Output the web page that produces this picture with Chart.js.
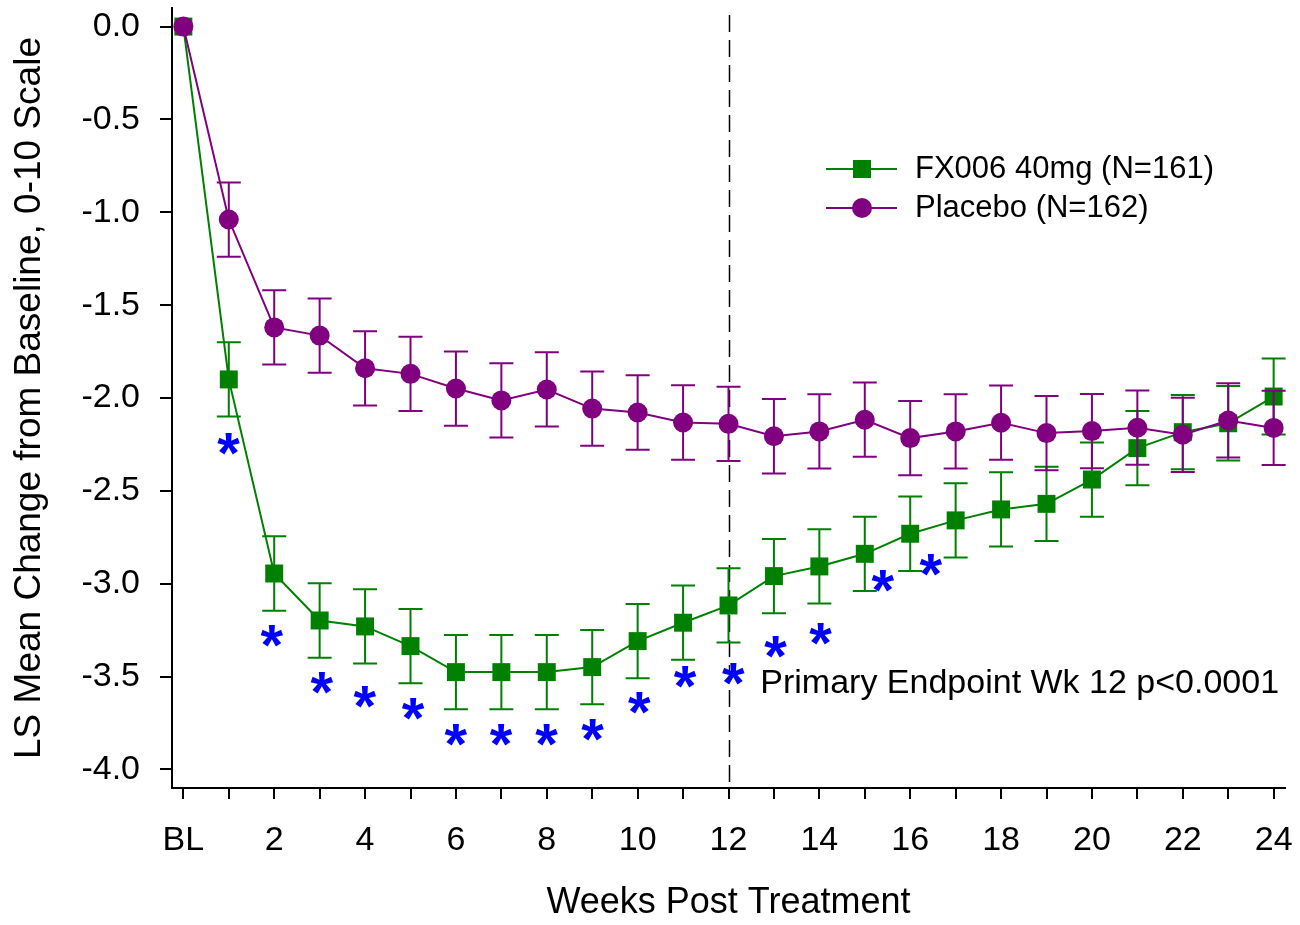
<!DOCTYPE html>
<html>
<head>
<meta charset="utf-8">
<script src="https://cdn.jsdelivr.net/npm/chart.js@4/dist/chart.umd.min.js"></script>
<style>
  html, body { margin: 0; background: #fff; }
</style>
</head>
<body>
<canvas id="grafico-dolor" width="1300" height="925"></canvas>
<script>
// LS mean change from baseline (0-10 scale), weeks 0 (BL) to 24
const semanas = [0, 1, 2, 3, 4, 5, 6, 7, 8, 9, 10, 11, 12, 13, 14, 15, 16, 17, 18, 19, 20, 21, 22, 23, 24];
const fx006Media = [0, -1.90, -2.945, -3.198, -3.23, -3.336, -3.476, -3.476, -3.476, -3.449, -3.309, -3.21, -3.117,
  -2.959, -2.907, -2.839, -2.731, -2.659, -2.60, -2.57, -2.439, -2.27, -2.184, -2.136, -1.992];
const fx006Error = [0, 0.2, 0.2, 0.2, 0.2, 0.2, 0.2, 0.2, 0.2, 0.2, 0.2, 0.2, 0.2,
  0.2, 0.2, 0.2, 0.2, 0.2, 0.2, 0.2, 0.2, 0.2, 0.2, 0.2, 0.205];
const placeboMedia = [0, -1.039, -1.62, -1.664, -1.84, -1.87, -1.949, -2.013, -1.954, -2.057, -2.078, -2.132, -2.139,
  -2.206, -2.18, -2.117, -2.216, -2.18, -2.133, -2.189, -2.178, -2.16, -2.198, -2.121, -2.161];
const placeboError = [0, 0.2, 0.2, 0.2, 0.2, 0.2, 0.2, 0.2, 0.2, 0.2, 0.2, 0.2, 0.2,
  0.2, 0.2, 0.2, 0.2, 0.2, 0.2, 0.2, 0.2, 0.2, 0.2, 0.2, 0.2];

// significance markers (*) under the FX006 curve
const asteriscoX = [1, 1.95, 3.05, 4, 5.06, 6, 7, 8, 9.01, 10.04, 11.05, 12.11, 13.04, 14.03, 15.4, 16.46];
const asteriscoY = [-2.247, -3.284, -3.537, -3.612, -3.673, -3.817, -3.812, -3.817, -3.79, -3.643, -3.503, -3.487,
  -3.339, -3.27, -2.983, -2.898];

const ticksX = semanas;
const ticksY = [0, -0.5, -1.0, -1.5, -2.0, -2.5, -3.0, -3.5, -4.0];
const semanaPrimaria = 12;
const textoPrimario = 'Primary Endpoint Wk 12 p<0.0001';
const textoPrimarioPos = { x: 12.7, y: -3.54 };

const etiquetaFx006 = 'FX006 40mg (N=161)';
const etiquetaPlacebo = 'Placebo (N=162)';

const VERDE = '#008000';
const MORADO = '#800080';
const AZUL = '#0000ff';
const FUENTE = '"Liberation Sans", Arial, Helvetica, sans-serif';

const puntos = (medias) => semanas.map((s, i) => ({ x: s, y: medias[i] }));

// error bars drawn right before their own dataset
const barrasError = {
  id: 'barrasError',
  beforeDatasetDraw(chart, args) {
    const ds = chart.data.datasets[args.index];
    if (!ds.errores) return;
    const { ctx, scales: { x, y } } = chart;
    ctx.save();
    ctx.strokeStyle = ds.borderColor;
    ctx.lineWidth = 2;
    ds.data.forEach((p, i) => {
      const e = ds.errores[i];
      if (!e) return;
      const px = x.getPixelForValue(p.x);
      const yArriba = y.getPixelForValue(p.y + e);
      const yAbajo = y.getPixelForValue(p.y - e);
      ctx.beginPath();
      ctx.moveTo(px, yArriba); ctx.lineTo(px, yAbajo);
      ctx.moveTo(px - 12, yArriba); ctx.lineTo(px + 12, yArriba);
      ctx.moveTo(px - 12, yAbajo); ctx.lineTo(px + 12, yAbajo);
      ctx.stroke();
    });
    ctx.restore();
  },
};

// dashed line at the primary endpoint week
const lineaPrimaria = {
  id: 'lineaPrimaria',
  beforeDatasetsDraw(chart) {
    const { ctx, chartArea, scales: { x } } = chart;
    const px = Math.round(x.getPixelForValue(semanaPrimaria)) + 0.5;
    ctx.save();
    ctx.strokeStyle = '#000';
    ctx.lineWidth = 1.5;
    ctx.setLineDash([17, 8]);
    ctx.beginPath();
    ctx.moveTo(px, chartArea.top + 7);
    ctx.lineTo(px, chartArea.bottom - 2);
    ctx.stroke();
    ctx.restore();
  },
};

// asterisks, endpoint note and legend
const anotaciones = {
  id: 'anotaciones',
  afterDatasetsDraw(chart) {
    const { ctx, scales: { x, y } } = chart;
    ctx.save();

    ctx.fillStyle = AZUL;
    ctx.font = `bold 58px ${FUENTE}`;
    ctx.textAlign = 'left';
    ctx.textBaseline = 'alphabetic';
    const m = ctx.measureText('*');
    const dx = (m.actualBoundingBoxRight - m.actualBoundingBoxLeft) / 2;
    const dy = (m.actualBoundingBoxAscent - m.actualBoundingBoxDescent) / 2;
    asteriscoX.forEach((sx, i) => {
      ctx.fillText('*', x.getPixelForValue(sx) - dx, y.getPixelForValue(asteriscoY[i]) + dy);
    });

    ctx.fillStyle = '#000';
    ctx.font = `34px ${FUENTE}`;
    ctx.textBaseline = 'middle';
    ctx.fillText(textoPrimario, x.getPixelForValue(textoPrimarioPos.x), y.getPixelForValue(textoPrimarioPos.y));

    // legend
    const filas = [
      { texto: etiquetaFx006, color: VERDE, forma: 'cuadro', y: 169 },
      { texto: etiquetaPlacebo, color: MORADO, forma: 'circulo', y: 208 },
    ];
    ctx.font = `31px ${FUENTE}`;
    filas.forEach((f) => {
      ctx.strokeStyle = f.color;
      ctx.fillStyle = f.color;
      ctx.lineWidth = 2;
      ctx.beginPath();
      ctx.moveTo(826, f.y); ctx.lineTo(897, f.y);
      ctx.stroke();
      if (f.forma === 'cuadro') {
        ctx.fillRect(862 - 9, f.y - 9, 18, 18);
      } else {
        ctx.beginPath();
        ctx.arc(862, f.y, 10, 0, Math.PI * 2);
        ctx.fill();
      }
      ctx.fillStyle = '#000';
      ctx.fillText(f.texto, 915, f.y);
    });
    ctx.restore();
  },
};

new Chart(document.getElementById('grafico-dolor'), {
  type: 'line',
  data: {
    datasets: [
      {
        label: etiquetaFx006,
        data: puntos(fx006Media),
        errores: fx006Error,
        borderColor: VERDE,
        backgroundColor: VERDE,
        borderWidth: 2,
        pointStyle: 'rect',
        pointRadius: 12.7,
        pointBorderWidth: 0,
        clip: false,
        order: 1,
      },
      {
        label: etiquetaPlacebo,
        data: puntos(placeboMedia),
        errores: placeboError,
        borderColor: MORADO,
        backgroundColor: MORADO,
        borderWidth: 2,
        pointStyle: 'circle',
        pointRadius: 10,
        pointBorderWidth: 0,
        clip: false,
        order: 0,
      },
    ],
  },
  options: {
    responsive: false,
    animation: false,
    layout: { autoPadding: false, padding: { top: 8, right: 15, left: 0, bottom: 0 } },
    plugins: { legend: { display: false }, tooltip: { enabled: false } },
    scales: {
      x: {
        type: 'linear',
        min: -0.25,
        max: 24.25,
        afterBuildTicks: (s) => { s.ticks = ticksX.map((v) => ({ value: v })); },
        afterFit: (s) => { s.height = 137; s.paddingLeft = 0; s.paddingRight = 0; },
        ticks: {
          color: '#000',
          font: { family: FUENTE, size: 34 },
          padding: 21,
          maxRotation: 0,
          autoSkip: false,
          callback: (v) => (v === 0 ? 'BL' : v % 2 === 0 ? String(v) : ''),
        },
        grid: { drawOnChartArea: false, drawTicks: true, tickLength: 11, color: '#000', lineWidth: 2 },
        border: { display: true, color: '#000', width: 2 },
        title: {
          display: true,
          text: 'Weeks Post Treatment',
          color: '#000',
          font: { family: FUENTE, size: 36 },
          padding: { top: 0, bottom: 0 },
        },
      },
      y: {
        min: -4.1,
        max: 0.1,
        afterBuildTicks: (s) => { s.ticks = ticksY.map((v) => ({ value: v })); },
        afterFit: (s) => { s.width = 172; s.paddingTop = 0; s.paddingBottom = 0; },
        ticks: {
          color: '#000',
          font: { family: FUENTE, size: 34 },
          padding: 20,
          callback: (v) => v.toFixed(1),
        },
        grid: { drawOnChartArea: false, drawTicks: true, tickLength: 12, color: '#000', lineWidth: 2 },
        border: { display: true, color: '#000', width: 2 },
        title: {
          display: true,
          text: 'LS Mean Change from Baseline, 0-10 Scale',
          color: '#000',
          font: { family: FUENTE, size: 37 },
          padding: { top: 8, bottom: 0 },
        },
      },
    },
  },
  plugins: [barrasError, lineaPrimaria, anotaciones],
});
</script>
</body>
</html>
